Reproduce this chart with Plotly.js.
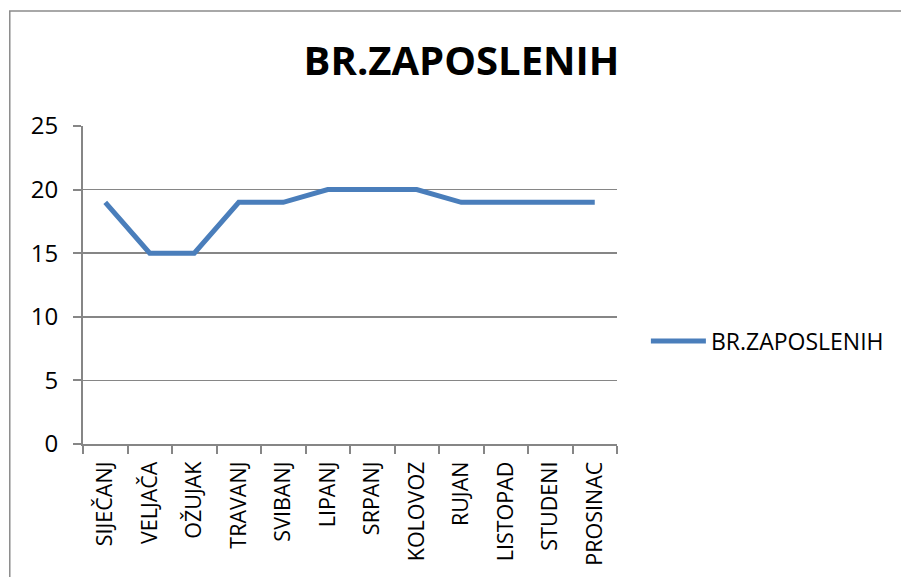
<!DOCTYPE html>
<html>
<head>
<meta charset="utf-8">
<script src="https://cdn.plot.ly/plotly-3.0.1.min.js"></script>
<style>html,body{margin:0;padding:0;background:#fff;}#chart{width:901px;height:577px;}</style>
</head>
<body>
<div id="chart"></div>
<script>
const months = ["SIJEČANJ","VELJAČA","OŽUJAK","TRAVANJ","SVIBANJ","LIPANJ","SRPANJ","KOLOVOZ","RUJAN","LISTOPAD","STUDENI","PROSINAC"];
const employees = [19,15,15,19,19,20,20,20,19,19,19,19];
const seriesName = "BR.ZAPOSLENIH";
const chartTitle = "BR.ZAPOSLENIH";

const W = 901, H = 577;
const mL = 83, mR = 282, mT = 126, mB = 133;
const pw = W - mL - mR, ph = H - mT - mB;
const px2x = p => (p - mL) / pw;
const py2y = p => (H - mB - p) / ph;

const grid = '#868686';
const trace = {
  x: months, y: employees, type: 'scatter', mode: 'lines', name: seriesName,
  line: {color: '#4a7ebb', width: 5}
};
const bx = px2x(9.5), by = py2y(11);
const layout = {
  width: W, height: H,
  margin: {l: mL, r: mR, t: mT, b: mB},
  paper_bgcolor: '#fff', plot_bgcolor: '#fff',
  font: {family: 'Open Sans, sans-serif', size: 22, color: '#000'},
  title: {text: chartTitle, x: 461.5 / W, xanchor: 'center', xref: 'container', y: 1 - 61 / H, yanchor: 'middle', yref: 'container',
          font: {family: 'Open Sans, sans-serif', size: 40, weight: 'bold', color: '#000'}},
  xaxis: {type: 'category', range: [-0.5, 11.5], showgrid: false, showline: true, linecolor: grid, linewidth: 2,
          ticks: 'outside', tickson: 'boundaries', ticklen: 8, tickcolor: grid, tickwidth: 2, tickangle: -90,
          ticklabelstandoff: 7, tickfont: {size: 21.5}, fixedrange: true},
  yaxis: {range: [0, 25], dtick: 5, showgrid: true, gridcolor: grid, gridwidth: 1.5, showline: true, linecolor: grid, linewidth: 2,
          ticks: 'outside', ticklen: 8, tickcolor: grid, tickwidth: 2, zeroline: false, ticklabelstandoff: 10,
          tickfont: {size: 24}, fixedrange: true},
  showlegend: true,
  legend: {x: px2x(648), xanchor: 'left', y: py2y(341), yanchor: 'middle', font: {size: 23}, itemwidth: 55, bgcolor: 'rgba(0,0,0,0)'},
  shapes: [{type: 'path', xref: 'paper', yref: 'paper', path: `M ${bx} -2 L ${bx} ${by} L 2 ${by}`, line: {color: '#8c8c8c', width: 1.5}}]
};
Plotly.newPlot('chart', [trace], layout, {displayModeBar: false, staticPlot: true});
</script>
</body>
</html>
